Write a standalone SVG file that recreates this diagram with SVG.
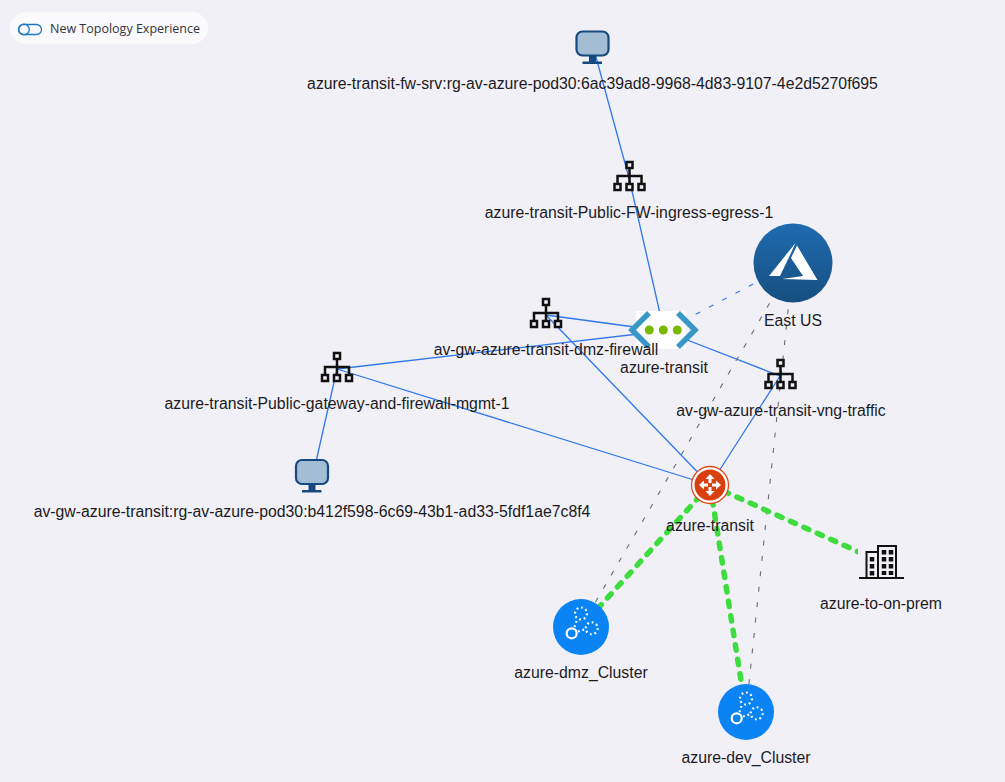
<svg xmlns="http://www.w3.org/2000/svg" width="1005" height="782" viewBox="0 0 1005 782">
<style>
.lbl{font-family:"Liberation Sans",Arial,sans-serif;font-size:15.8px;fill:#1b1b1f;text-anchor:middle}
.e{stroke:#2f78ee;stroke-width:1.3;fill:none}
.d{stroke:#6b6b70;stroke-width:1.1;stroke-dasharray:5 10.500;fill:none}
.g{stroke:#3fdc3f;stroke-width:5.500;stroke-dasharray:5.500 9.200;stroke-linecap:round;fill:none}
.st{fill:none;stroke:#111;stroke-width:2.500}
.bx{fill:#f1f0f6;stroke:#111;stroke-width:2.500}
.mon{fill:#a3bdd4;stroke:#164a7e;stroke-width:2.200}
.dot{fill:none;stroke:#fff;stroke-width:2.200;stroke-dasharray:1.800 2.800}
</style>
<defs>
<g id="sub">
<path class="st" d="M0-12V-4M-12 6V-2H12V6M0-4V6"/>
<rect class="bx" x="-3" y="-16" width="6" height="6"/>
<rect class="bx" x="-15" y="6" width="6" height="6"/>
<rect class="bx" x="-3" y="6" width="6" height="6"/>
<rect class="bx" x="9" y="6" width="6" height="6"/>
</g>
<g id="vm">
<rect class="mon" x="-16.500" y="-14.500" width="32" height="24" rx="6"/>
<rect x="-4" y="9.500" width="7" height="7" fill="#164a7e"/>
<rect x="-10.500" y="15.500" width="19.500" height="2.500" fill="#164a7e"/>
</g>
<g id="cluster">
<circle r="28" fill="#0a84f5"/>
<circle cx="0" cy="-13.500" r="6" class="dot"/>
<circle cx="10.700" cy="1.300" r="6" class="dot"/>
<circle cx="-9.300" cy="6.300" r="5" fill="none" stroke="#fff" stroke-width="2.200"/>
<path class="dot" d="M-6.500 0 L-4.500-6 M-3 4.500 L3.500 2.500"/>
</g>
<linearGradient id="az" x1="0" y1="0" x2="0" y2="1"><stop offset="0" stop-color="#1f6bb0"/><stop offset="1" stop-color="#164f80"/></linearGradient>
</defs>
<rect width="1005" height="782" fill="#f1f0f6"/>
<g id="toggle">
<rect x="10" y="12" width="198" height="32" rx="16" fill="#fafafc"/>
<rect x="18.500" y="24.500" width="23" height="10" rx="5" fill="none" stroke="#1f7ac4" stroke-width="1.300"/>
<circle cx="24" cy="29.500" r="5.300" fill="none" stroke="#1f7ac4" stroke-width="1.300"/>
<text x="50" y="33.200" style="font-family:'Open Sans','Noto Sans',sans-serif;font-size:12.500px;fill:#33333b">New Topology Experience</text>
</g>
<g id="connectors">
<line class="e" x1="593" y1="46" x2="629" y2="178"/>
<line class="e" x1="629" y1="178" x2="664" y2="331"/>
<line class="e" x1="546" y1="315" x2="664" y2="331"/>
<line class="e" x1="546" y1="315" x2="710" y2="485"/>
<line class="e" x1="337" y1="369" x2="664" y2="331"/>
<line class="e" x1="337" y1="369" x2="710" y2="485"/>
<line class="e" x1="337" y1="369" x2="313" y2="475"/>
<line class="e" x1="664" y1="331" x2="780" y2="376"/>
<line class="e" x1="780" y1="376" x2="710" y2="485"/>
<line x1="793" y1="263" x2="664" y2="331" stroke="#2f78ee" stroke-width="1.100" stroke-dasharray="5 10"/>
<line class="d" x1="793" y1="263" x2="581" y2="627"/>
<line class="d" x1="793" y1="263" x2="746" y2="712"/>
<line class="g" x1="710" y1="485" x2="581" y2="627"/>
<line class="g" x1="710" y1="485" x2="746" y2="712"/>
<line class="g" x1="710" y1="485" x2="881" y2="562"/>
</g>
<g id="vm-fw"><use href="#vm" x="593" y="46"/></g>
<g id="sub-fw"><use href="#sub" x="629.500" y="178"/></g>
<g id="region">
<circle cx="793" cy="263" r="39.500" fill="url(#az)"/>
<path d="M797 245.500 L817.500 280 L782 279 L803 276 L791 258 Z" fill="#fff"/>
<path d="M795.500 243 L769 276 L780 276 L791 253 Z" fill="#fff"/>
</g>
<g id="vnet">
<rect x="636" y="311" width="50" height="38" fill="#fff"/>
<path d="M649 313 L632 330 L649 347" fill="none" stroke="#3b97c7" stroke-width="5.500"/>
<path d="M678 313 L695 330 L678 347" fill="none" stroke="#3b97c7" stroke-width="5.500"/>
<circle cx="649.300" cy="330" r="4.500" fill="#7ab800"/>
<circle cx="663.300" cy="330" r="4.500" fill="#7ab800"/>
<circle cx="677.300" cy="330" r="4.500" fill="#7ab800"/>
</g>
<g id="sub-dmz"><use href="#sub" x="546" y="315"/></g>
<g id="sub-gw"><use href="#sub" x="337" y="369"/></g>
<g id="sub-vng"><use href="#sub" x="780.500" y="376"/></g>
<g id="vm-gw"><use href="#vm" x="312.500" y="474.500"/></g>
<g id="router">
<circle cx="710" cy="485" r="18.500" fill="#fff" stroke="#e04a1a" stroke-width="1.300"/>
<circle cx="710" cy="485" r="15.500" fill="#d9400f"/>
<path d="M710 474l-4.500 5h3v4h3v-4h3zM710 496l-4.500-5h3v-4h3v4h3zM699 485l5-4.500v3h4v3h-4v3zM721 485l-5-4.500v3h-4v3h4v3z" fill="#fff"/>
</g>
<g id="cluster-dmz"><use href="#cluster" x="581" y="627"/></g>
<g id="cluster-dev"><use href="#cluster" x="746" y="712"/></g>
<g id="prem" fill="none" stroke="#111" stroke-width="2">
<rect x="858" y="540" width="47" height="43" fill="#f1f0f6" stroke="none"/>
<path d="M859 578H904"/>
<rect x="866.500" y="552" width="11.500" height="26"/>
<rect x="878" y="546" width="18" height="32"/>
<path stroke-width="4.500" stroke-dasharray="4.500 2.500" d="M872 557V577M884 550V575M891 550V575"/>
</g>
<g id="labels">
<text class="lbl" x="592.500" y="88.600">azure-transit-fw-srv:rg-av-azure-pod30:6ac39ad8-9968-4d83-9107-4e2d5270f695</text>
<text class="lbl" x="629" y="217.600">azure-transit-Public-FW-ingress-egress-1</text>
<text class="lbl" x="793" y="325.600">East US</text>
<text class="lbl" x="546" y="354.600">av-gw-azure-transit-dmz-firewall</text>
<text class="lbl" x="664" y="372.600">azure-transit</text>
<text class="lbl" x="337" y="408.600">azure-transit-Public-gateway-and-firewall-mgmt-1</text>
<text class="lbl" x="781" y="415.600">av-gw-azure-transit-vng-traffic</text>
<text class="lbl" x="312" y="516.600">av-gw-azure-transit:rg-av-azure-pod30:b412f598-6c69-43b1-ad33-5fdf1ae7c8f4</text>
<text class="lbl" x="710" y="530.600">azure-transit</text>
<text class="lbl" x="881" y="608.600">azure-to-on-prem</text>
<text class="lbl" x="581" y="677.600">azure-dmz_Cluster</text>
<text class="lbl" x="746" y="762.600">azure-dev_Cluster</text>
</g>
</svg>
